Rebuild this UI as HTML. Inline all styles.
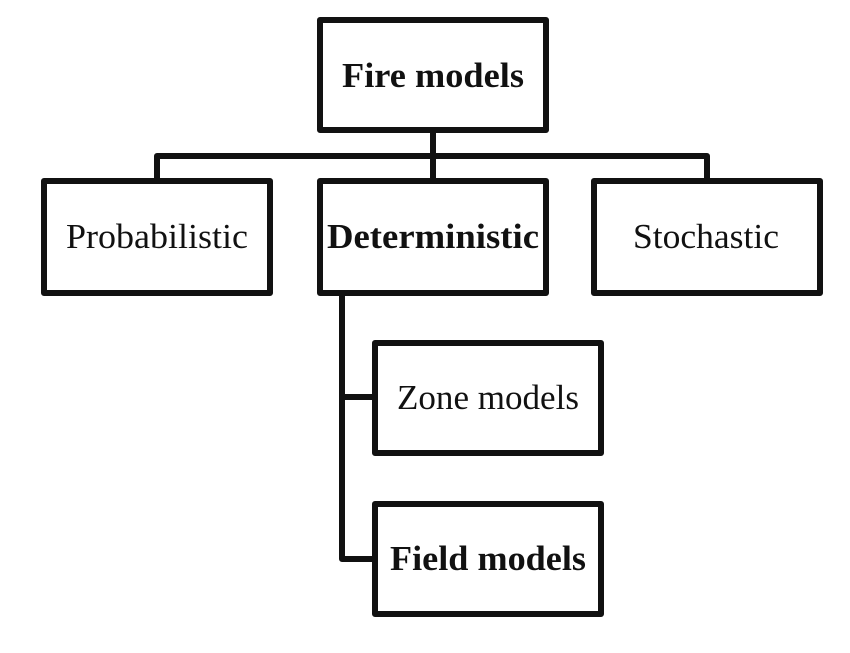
<!DOCTYPE html>
<html><head><style>html,body{margin:0;padding:0;background:#fff}</style></head>
<body>
<svg width="850" height="653" xmlns="http://www.w3.org/2000/svg" style="display:block">
<g fill="none" stroke="#111" stroke-width="6" stroke-linejoin="round">
<rect x="320" y="20" width="226" height="110"/>
<rect x="44" y="181" width="226" height="112"/>
<rect x="320" y="181" width="226" height="112"/>
<rect x="594" y="181" width="226" height="112"/>
<rect x="375" y="343" width="226" height="110"/>
<rect x="375" y="504" width="226" height="110"/>
<path d="M433 130 V181 M157 181 V156 H707 V181 M342 293 V559 H375 M342 397 H375"/>
</g>
<g font-family="Liberation Serif, serif" font-size="35" fill="#111" text-anchor="middle">
<text x="433" y="87" font-weight="bold" textLength="182" lengthAdjust="spacingAndGlyphs">Fire models</text>
<text x="157" y="248" textLength="182" lengthAdjust="spacingAndGlyphs">Probabilistic</text>
<text x="433" y="248" font-weight="bold" textLength="212" lengthAdjust="spacingAndGlyphs">Deterministic</text>
<text x="706" y="248" textLength="146" lengthAdjust="spacingAndGlyphs">Stochastic</text>
<text x="488" y="409" textLength="182" lengthAdjust="spacingAndGlyphs">Zone models</text>
<text x="488" y="570" font-weight="bold" textLength="196" lengthAdjust="spacingAndGlyphs">Field models</text>
</g>
</svg>
</body></html>
